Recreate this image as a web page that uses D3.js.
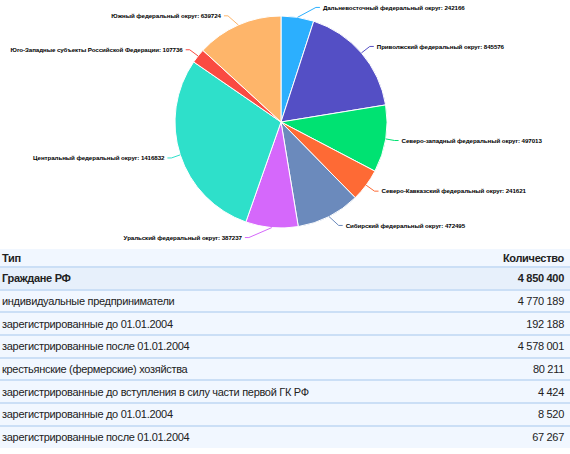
<!DOCTYPE html>
<html>
<head>
<meta charset="utf-8">
<script src="https://cdn.jsdelivr.net/npm/d3@7"></script>
<style>
	html, body { margin: 0; padding: 0; background: #fff; }
	body { width: 570px; height: 454px; overflow: hidden; font-family: "Liberation Sans", Arial, sans-serif; }
	#chart { display: block; }
	table { border-collapse: collapse; width: 570px; background: #f1f7ff; color: #222; font-size: 11px; letter-spacing: -0.3px; }
	th, td { padding: 0 6px 0 2px; white-space: nowrap; }
	th { height: 17px; text-align: left; font-weight: bold; border-bottom: 2px solid #cbdff6; }
	td { height: 20.7px; border-bottom: 2px solid #cbdff6; }
	tr:last-child td { border-bottom: none; }
	.num { text-align: right; }
	tr.total td { font-weight: bold; background: #e7f0fb; }
</style>
</head>
<body>
<svg id="chart"></svg>
<div id="table"></div>
<script>
// pie: федеральные округа
const regions = [
	"Дальневосточный федеральный округ",
	"Приволжский федеральный округ",
	"Северо-западный федеральный округ",
	"Северо-Кавказский федеральный округ",
	"Сибирский федеральный округ",
	"Уральский федеральный округ",
	"Центральный федеральный округ",
	"Юго-Западные субъекты Российской Федерации",
	"Южный федеральный округ",
];
const regionCounts = [242166, 845576, 497013, 241621, 472495, 387237, 1416832, 107736, 639724];
const colors = ["#2caffe", "#544fc5", "#00e272", "#fe6a35", "#6b8abc", "#d568fb", "#2ee0ca", "#fa4b42", "#feb56a"];

// table
const tableHeader = ["Тип", "Количество"];
const types = [
	"Граждане РФ",
	"индивидуальные предприниматели",
	"зарегистрированные до 01.01.2004",
	"зарегистрированные после 01.01.2004",
	"крестьянские (фермерские) хозяйства",
	"зарегистрированные до вступления в силу части первой ГК РФ",
	"зарегистрированные до 01.01.2004",
	"зарегистрированные после 01.01.2004",
];
const amounts = [4850400, 4770189, 192188, 4578001, 80211, 4424, 8520, 67267];
const totalRows = [0];

const width = 570;
const height = 249;
const cx = 281;
const cy = 122;
const radius = 106;
const labelRy = radius + 10;
const labelRx = radius + 16;

const svg = d3.select("#chart").attr("width", width).attr("height", height);

const pieData = d3
	.pie()
	.sort(null)
	.value((d) => d.value)(regions.map((name, i) => ({ name, value: regionCounts[i], color: colors[i] })));

const arc = d3.arc().innerRadius(0).outerRadius(radius);

const g = svg.append("g").attr("transform", `translate(${cx},${cy})`);

g.selectAll("path.slice")
	.data(pieData)
	.enter()
	.append("path")
	.attr("class", "slice")
	.attr("d", arc)
	.style("fill", (d) => d.data.color)
	.style("stroke", "#fff")
	.style("stroke-width", "1px");

// label layout, roughly like the highcharts one
pieData.forEach((d) => {
	const a = (d.startAngle + d.endAngle) / 2;
	d.right = Math.sin(a) >= 0;
	d.ex = radius * Math.sin(a);
	d.ey = -radius * Math.cos(a);
	let ly = -labelRy * Math.cos(a);
	ly = Math.max(7 - cy, Math.min(239 - cy, ly));
	d.ly = ly;
	const dx = Math.sqrt(Math.max(0, labelRx * labelRx - ly * ly));
	d.lx = d.right ? dx : -dx;
});

g.selectAll("path.connector")
	.data(pieData)
	.enter()
	.append("path")
	.attr("class", "connector")
	.attr("d", (d) => {
		const s = d.right ? 1 : -1;
		return `M${d.ex},${d.ey}L${d.lx - s * 7},${d.ly}L${d.lx - s * 3},${d.ly}`;
	})
	.style("fill", "none")
	.style("stroke", (d) => d.data.color)
	.style("stroke-width", "1px");

g.selectAll("text.label")
	.data(pieData)
	.enter()
	.append("text")
	.attr("class", "label")
	.attr("x", (d) => d.lx)
	.attr("y", (d) => d.ly)
	.attr("dy", "0.35em")
	.attr("text-anchor", (d) => (d.right ? "start" : "end"))
	.text((d) => `${d.data.name}: ${d.data.value}`)
	.style("font-family", "'Liberation Sans', Arial, sans-serif")
	.style("font-size", "6.2px")
	.style("letter-spacing", "-0.08px")
	.style("font-weight", "bold")
	.style("fill", "#000");

// table under the chart
const fmt = (n) => d3.format(",")(n).replace(/,/g, " ");

const table = d3.select("#table").append("table");
const head = table.append("thead").append("tr");
head.append("th").text(tableHeader[0]);
head.append("th").attr("class", "num").text(tableHeader[1]);

const rows = table
	.append("tbody")
	.selectAll("tr")
	.data(types.map((t, i) => ({ type: t, amount: amounts[i], total: totalRows.includes(i) })))
	.enter()
	.append("tr")
	.attr("class", (d) => (d.total ? "total" : null));

rows.append("td").text((d) => d.type);
rows.append("td").attr("class", "num").text((d) => fmt(d.amount));
</script>
</body>
</html>
